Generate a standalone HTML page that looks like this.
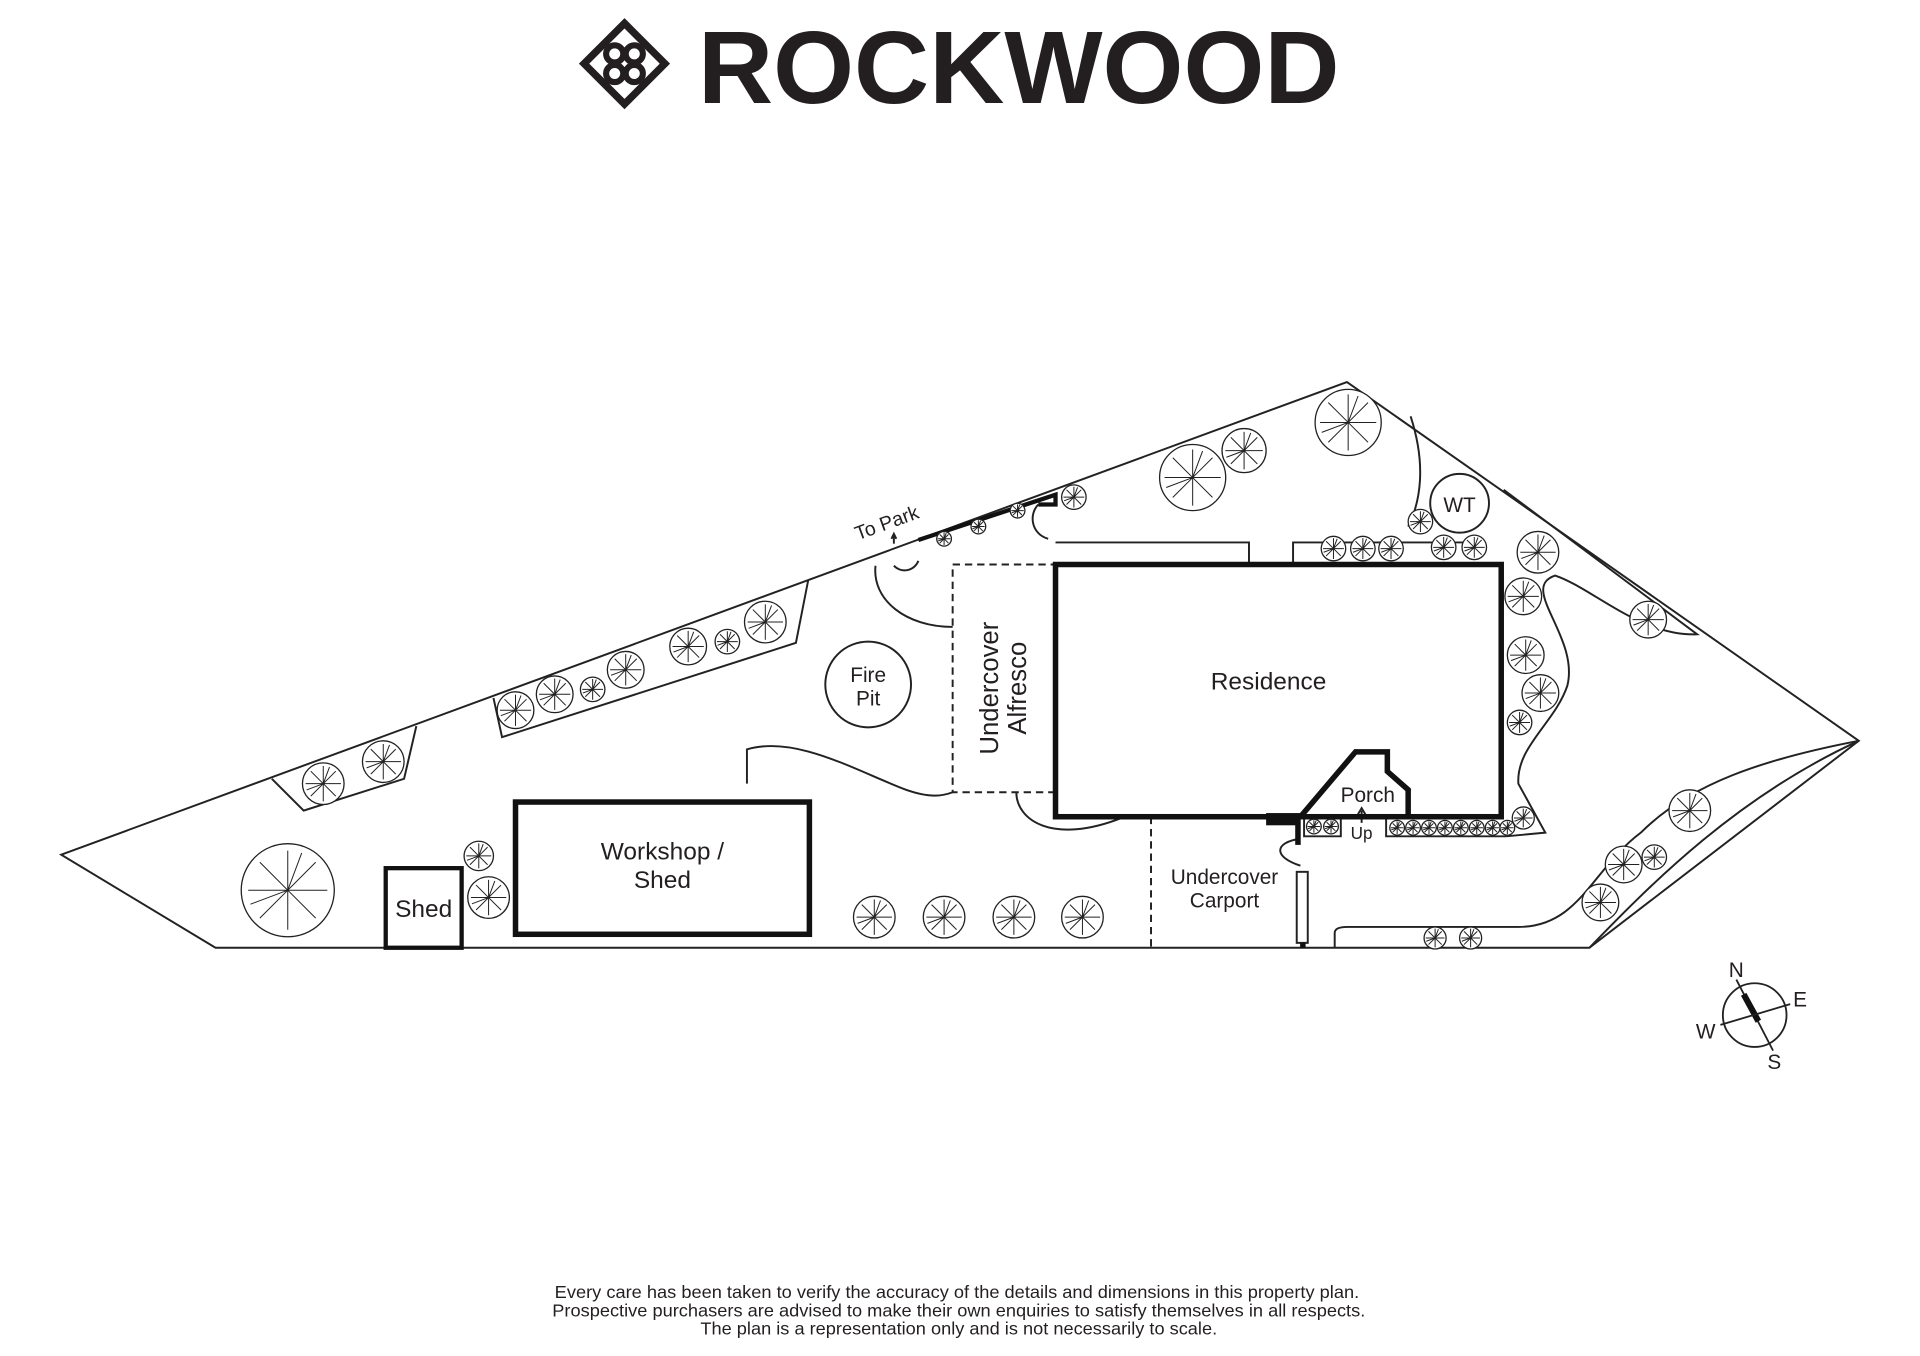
<!DOCTYPE html>
<html><head><meta charset="utf-8"><style>html,body{margin:0;padding:0;background:#fff}svg{display:block}text{font-family:"Liberation Sans",sans-serif;fill:#231f20}</style></head><body>
<svg width="1920" height="1356" viewBox="0 0 1568 1107.4" xmlns="http://www.w3.org/2000/svg">
<defs>
<g id="t"><circle r="1" fill="#fff" stroke="#222" stroke-width="1.3" vector-effect="non-scaling-stroke"/><path d="M0 0L0 -.85M0 0L.6 -.6M0 0L.85 0M0 0L.6 .6M0 0L0 .85M0 0L-.6 .6M0 0L-.85 0M0 0L-.6 -.6M0 0L.3 -.8M0 0L-.8 .3" stroke="#222" stroke-width="1" vector-effect="non-scaling-stroke"/></g>
</defs>
<g transform="translate(510,52)" fill="none" stroke="#231f20" stroke-width="5">
<path d="M0 -33 L33 0 L0 33 L-33 0 Z" stroke-width="6"/>
<circle cx="-8" cy="-8" r="7" fill="#fff"/><circle cx="8" cy="-8" r="7" fill="#fff"/><circle cx="-8" cy="8" r="7" fill="#fff"/><circle cx="8" cy="8" r="7" fill="#fff"/>
</g>
<text x="570" y="84" font-size="84" font-weight="bold" textLength="524" lengthAdjust="spacingAndGlyphs">ROCKWOOD</text>

<g fill="none" stroke="#222" stroke-width="1.6">
<polygon points="50,698 1100,312 1518,605 1298,774 176,774"/>
<path d="M222,636 L248,662 L330,636 L340,593"/>
<path d="M403,570 L410,602 L650,525 L660,474"/>
<path d="M862,443 L1020,443 L1020,461"/>
<path d="M1056,461 L1056,443 L1210,443"/>
<path d="M1152,340 C1165,380 1160,410 1150,430"/>
<path d="M1228,400 L1386,518 C1340,520 1300,480 1270,470 C1240,480 1290,520 1280,560 C1270,590 1238,610 1240,640 L1262,680 L1230,683"/>
<path d="M1132,668 L1132,683 L1230,683"/>
<path d="M1065,668 L1065,683 L1095,683 L1095,668"/>
<path d="M610,640 L610,612 C650,600 700,630 740,645 C760,652 770,650 778,647"/>
<path d="M830,647 C830,670 860,690 916,668"/>
<path d="M715,462 C712,490 740,512 778,512"/>
<path d="M730,462 A12 12 0 0 0 750,458"/>
<path d="M848,412 C840,420 842,436 856,440"/>
<path d="M1090,774 L1090,762 Q1090,757 1100,757 L1240,757 C1290,757 1300,710 1340,680 C1380,640 1440,620 1518,605"/>
<path d="M1298,774 C1350,720 1420,650 1518,605"/>
<path d="M1062,707 C1040,700 1040,688 1062,685"/>
<rect x="1059" y="712" width="9" height="58"/>
<circle cx="709" cy="559" r="35"/>
<circle cx="1192" cy="411" r="24"/>
<rect x="778" y="461" width="84" height="186" stroke-dasharray="6,4"/>
<path d="M940,667 L940,774" stroke-dasharray="6,4"/>
<path d="M1112,672 L1112,662" /><path d="M1109,665 L1112,660 L1115,665"/>
<path d="M730,444 L730,437"/><path d="M728,440 L730,436 L732,440"/>
</g>
<path d="M750,441 L862,404 L862,412 L848,412" fill="none" stroke="#111" stroke-width="3.5"/>
<g fill="none" stroke="#111" stroke-width="4.5">
<rect x="862" y="461" width="364" height="206"/>
<path d="M1034,667 L1062,667 L1107,614 L1133,614 L1133,630 L1150,645 L1150,667"/>
<rect x="421" y="655" width="240" height="108"/>
<rect x="315" y="709" width="62" height="65" stroke-width="3.5"/>
<path d="M1060,667 L1060,690" />
<path d="M1064,770 L1064,774" />
</g>
<rect x="1034" y="664" width="28" height="10" fill="#111"/>
<g>
<use href="#t" transform="translate(235,727) scale(38)"/>
<use href="#t" transform="translate(1101,345) scale(27)"/>
<use href="#t" transform="translate(974,390) scale(27)"/>
<use href="#t" transform="translate(1016,368) scale(18)"/>
<use href="#t" transform="translate(264,640) scale(17)"/><use href="#t" transform="translate(313,622) scale(17)"/>
<use href="#t" transform="translate(421,580) scale(15)"/><use href="#t" transform="translate(453,567) scale(15)"/>
<use href="#t" transform="translate(511,547) scale(15)"/><use href="#t" transform="translate(562,528) scale(15)"/>
<use href="#t" transform="translate(625,508) scale(17)"/>
<use href="#t" transform="translate(714,749) scale(17)"/><use href="#t" transform="translate(771,749) scale(17)"/>
<use href="#t" transform="translate(828,749) scale(17)"/><use href="#t" transform="translate(884,749) scale(17)"/>
<use href="#t" transform="translate(1256,451) scale(17)"/><use href="#t" transform="translate(1244,487) scale(15)"/>
<use href="#t" transform="translate(1246,535) scale(15)"/><use href="#t" transform="translate(1258,566) scale(15)"/>
<use href="#t" transform="translate(1346,506) scale(15)"/><use href="#t" transform="translate(1380,662) scale(17)"/>
<use href="#t" transform="translate(1326,706) scale(15)"/><use href="#t" transform="translate(1307,737) scale(15)"/>
<use href="#t" transform="translate(399,733) scale(17)"/>
<use href="#t" transform="translate(484,563) scale(10)"/><use href="#t" transform="translate(594,524) scale(10)"/>
<use href="#t" transform="translate(771,440) scale(6)"/><use href="#t" transform="translate(799,430) scale(6)"/>
<use href="#t" transform="translate(831,417) scale(6)"/><use href="#t" transform="translate(877,406) scale(10)"/>
<use href="#t" transform="translate(391,699) scale(12)"/>
<use href="#t" transform="translate(1089,448) scale(10)"/><use href="#t" transform="translate(1113,448) scale(10)"/>
<use href="#t" transform="translate(1136,448) scale(10)"/><use href="#t" transform="translate(1160,426) scale(10)"/>
<use href="#t" transform="translate(1179,447) scale(10)"/><use href="#t" transform="translate(1204,447) scale(10)"/>
<use href="#t" transform="translate(1241,590) scale(10)"/><use href="#t" transform="translate(1244,668) scale(9)"/>
<use href="#t" transform="translate(1351,700) scale(10)"/><use href="#t" transform="translate(1172,766) scale(9)"/>
<use href="#t" transform="translate(1201,766) scale(9)"/>
<use href="#t" transform="translate(1073,675) scale(6)"/><use href="#t" transform="translate(1087,675) scale(6)"/>
<use href="#t" transform="translate(1141,676) scale(6)"/><use href="#t" transform="translate(1154,676) scale(6)"/>
<use href="#t" transform="translate(1167,676) scale(6)"/><use href="#t" transform="translate(1180,676) scale(6)"/>
<use href="#t" transform="translate(1193,676) scale(6)"/><use href="#t" transform="translate(1206,676) scale(6)"/>
<use href="#t" transform="translate(1219,676) scale(6)"/><use href="#t" transform="translate(1231,676) scale(6)"/>
</g>
<g font-size="20" text-anchor="middle">
<text x="1036" y="563">Residence</text>
<text x="541" y="702">Workshop /</text><text x="541" y="725">Shed</text>
<text x="346" y="749">Shed</text>
<text x="709" y="557" font-size="17">Fire</text><text x="709" y="576" font-size="17">Pit</text>
<text x="1192" y="418" font-size="17">WT</text>
<text x="1117" y="655" font-size="17">Porch</text>
<text x="1112" y="685" font-size="14">Up</text>
<text x="1000" y="722" font-size="17">Undercover</text><text x="1000" y="741" font-size="17">Carport</text>
<text transform="translate(815,562) rotate(-90)" font-size="21">Undercover</text>
<text transform="translate(838,562) rotate(-90)" font-size="21">Alfresco</text>
<text transform="translate(726,432) rotate(-20)" font-size="16">To Park</text>
</g>
<g>
<circle cx="1433" cy="829" r="26" fill="none" stroke="#222" stroke-width="1.5"/>
<path d="M1418,800 L1448,858" stroke="#222" stroke-width="1.5"/>
<path d="M1424,812 L1436,834" stroke="#111" stroke-width="5"/>
<path d="M1405,837 L1462,820" stroke="#222" stroke-width="1.5"/>
<g font-size="17" text-anchor="middle"><text x="1418" y="798">N</text><text x="1470" y="822">E</text><text x="1393" y="848">W</text><text x="1449" y="873">S</text></g>
</g>
<g font-size="14.4">
<text x="453" y="1060" textLength="657" lengthAdjust="spacingAndGlyphs">Every care has been taken to verify the accuracy of the details and dimensions in this property plan.</text>
<text x="451" y="1075" textLength="664" lengthAdjust="spacingAndGlyphs">Prospective purchasers are advised to make their own enquiries to satisfy themselves in all respects.</text>
<text x="572" y="1090" textLength="422" lengthAdjust="spacingAndGlyphs">The plan is a representation only and is not necessarily to scale.</text>
</g>
</svg>
</body></html>
